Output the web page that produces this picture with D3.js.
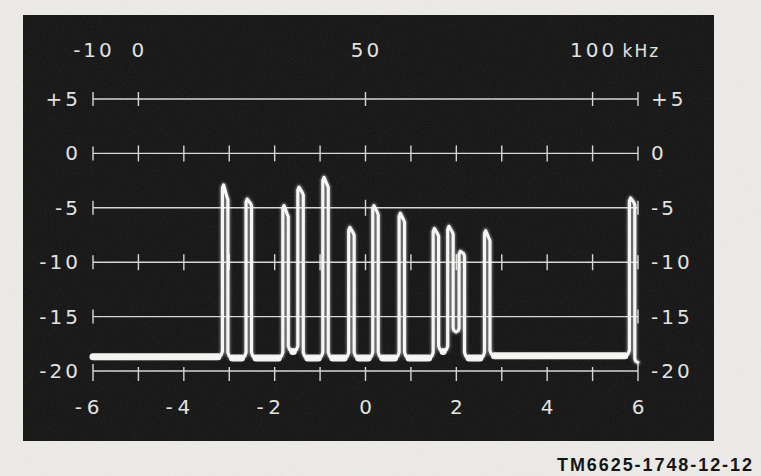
<!DOCTYPE html>
<html>
<head>
<meta charset="utf-8">
<script src="https://cdn.jsdelivr.net/npm/d3@7"></script>
<style>
  html, body { margin: 0; padding: 0; background: #ececea; }
  svg { display: block; }
</style>
</head>
<body>
<svg id="chart" width="761" height="476"></svg>
<script>
// ---- data ----
const xTicks = [-6, -4, -2, 0, 2, 4, 6];                 // bottom scale labels
const yTicks = [5, 0, -5, -10, -15, -20];                 // level lines (dB)
const yTickLabels = ["+5", "0", "-5", "-10", "-15", "-20"];
const topTicks = [-10, 0, 50, 100];                       // kHz labels on top
const topTickLabels = ["-10", "0", "50", "100"];
const topUnit = "kHz";

// channel pulses: position on bottom scale, peak level (left), shoulder level (right)
const channelPos      = [-3.09, -2.57, -1.76, -1.43, -0.88, -0.31, 0.22, 0.80, 1.55, 1.87, 2.12, 2.68, 5.87];
const channelLevel    = [-2.9, -4.2, -4.8, -3.1, -2.2, -6.8, -4.8, -5.5, -6.9, -6.7, -9.0, -7.1, -4.1];
const channelShoulder = [-4.0, -4.6, -5.6, -3.6, -2.9, -7.3, -5.4, -6.1, -7.4, -7.2, -9.2, -7.8, -4.5];
// valley bottoms between consecutive pulses
const valleyLevel     = [-18.8, -18.8, -18.2, -18.8, -18.8, -18.8, -18.8, -18.8, -18.2, -16.4, -18.8, -18.6];
const floorLevel = -18.7;
const endLevel = -19.2;
const pulseWidth = 0.12;
const caption = "TM6625-1748-12-12";

// ---- layout ----
const svg = d3.select("#chart");
const W = 761, H = 476;
const x = d3.scaleLinear().domain([-6, 6]).range([93, 638]);
const xk = d3.scaleLinear().domain([-10, 110]).range([93, 638]);
const y = d3.scaleLinear().domain([-20, 5]).range([371, 99]);

const defs = svg.append("defs");
const nf = defs.append("filter").attr("id", "noise").attr("x", 0).attr("y", 0).attr("width", "100%").attr("height", "100%");
nf.append("feTurbulence").attr("type", "fractalNoise").attr("baseFrequency", 0.85).attr("numOctaves", 2).attr("seed", 3);
nf.append("feColorMatrix").attr("type", "saturate").attr("values", 0);
const glow = defs.append("filter").attr("id", "glow").attr("x", "-20%").attr("y", "-20%").attr("width", "140%").attr("height", "140%");
glow.append("feGaussianBlur").attr("stdDeviation", 1.2);

// page
svg.append("rect").attr("width", W).attr("height", H).attr("fill", "#ecebe8");
svg.append("rect").attr("width", W).attr("height", H).attr("filter", "url(#noise)").attr("opacity", 0.08);

// panel
svg.append("rect").attr("x", 23).attr("y", 15).attr("width", 691).attr("height", 426).attr("fill", "#121212");
svg.append("rect").attr("x", 23).attr("y", 15).attr("width", 691).attr("height", 426)
  .attr("filter", "url(#noise)").attr("opacity", 0.1);

const ink = "#e2e2e0";
const font = "'DejaVu Sans', 'Open Sans', sans-serif";

// level lines
const grid = svg.append("g").attr("stroke", "#d6d6d4").attr("stroke-width", 1.4).attr("fill", "none");
yTicks.forEach(v => {
  grid.append("line").attr("x1", x(-6)).attr("x2", x(6)).attr("y1", y(v)).attr("y2", y(v));
  [-6, 6].forEach(e => grid.append("line").attr("x1", x(e)).attr("x2", x(e))
    .attr("y1", y(v) - 7).attr("y2", y(v) + (v === -20 ? 10 : 7)));
});
const unitTicks = d3.range(-5, 6);
function tickRow(level, positions, up, down) {
  positions.forEach(p => grid.append("line").attr("x1", x(p)).attr("x2", x(p))
    .attr("y1", y(level) - up).attr("y2", y(level) + down));
}
tickRow(5, [-5, 0, 5], 7, 7);
tickRow(0, unitTicks, 8, 8);
tickRow(-5, [0], 8, 8);
tickRow(-10, unitTicks, 8, 8);
tickRow(-20, unitTicks, 4, 10);

// trace
const pts = [];
const floorSegs = [];
const n = channelPos.length;
const hw = (x(pulseWidth) - x(0)) / 2;
pts.push([x(-6), y(floorLevel)]);
for (let i = 0; i < n; i++) {
  const xc = x(channelPos[i]);
  const xl = xc - hw, xr = xc + hw;
  const ybL = y(i === 0 ? floorLevel : valleyLevel[i - 1]);
  const ybR = y(i === n - 1 ? endLevel : valleyLevel[i]);
  const prevXr = i === 0 ? -1e9 : x(channelPos[i - 1]) + hw;
  const nextXl = i === n - 1 ? xr + 6 : x(channelPos[i + 1]) - hw;
  const rL = Math.min(4.5, (xl - prevXr) / 2);
  const rR = Math.min(4.5, (nextXl - xr) / 2);
  const yt = y(channelLevel[i]), ys = y(channelShoulder[i]);
  pts.push([xl - rL, ybL], [xl - rL * 0.3, ybL - rL * 0.4], [xl, ybL - rL * 1.2],
           [xl, yt + 3], [xl + 1.2, yt], [xr - 1, ys], [xr, ys + 2.5],
           [xr, ybR - rR * 1.2], [xr + rR * 0.3, ybR - rR * 0.4], [xr + rR, ybR]);
  if (i < n - 1) floorSegs.push([[xr + rR, ybR], [nextXl - rR, ybR]]);
}
floorSegs.unshift([[x(-6), y(floorLevel)], [x(channelPos[0]) - hw - 4.5, y(floorLevel)]]);

const line = d3.line();
const tr = svg.append("g").attr("fill", "none").attr("stroke-linejoin", "round").attr("stroke-linecap", "round");
tr.append("path").attr("d", line(pts)).attr("stroke", "#ffffff").attr("stroke-width", 5.5)
  .attr("opacity", 0.35).attr("filter", "url(#glow)");
floorSegs.forEach(s => {
  if (s[1][0] > s[0][0]) tr.append("path").attr("d", line(s)).attr("stroke", "#f2f2f0").attr("stroke-width", 7);
});
tr.append("path").attr("d", line(pts)).attr("stroke", "#f6f6f4").attr("stroke-width", 3.2);

// left / right labels
const lab = svg.append("g").attr("fill", ink).attr("font-family", font).attr("font-size", 20);
yTicks.forEach((v, i) => {
  lab.append("text").attr("x", 81).attr("y", y(v) + 7).attr("text-anchor", "end")
    .attr("letter-spacing", 3).text(yTickLabels[i]);
  lab.append("text").attr("x", 651).attr("y", y(v) + 7).attr("text-anchor", "start")
    .attr("letter-spacing", 3).text(yTickLabels[i]);
});
// bottom labels: digits centred on the tick, minus sign hanging left
xTicks.forEach(v => {
  const s = String(Math.abs(v));
  lab.append("text").attr("x", x(v)).attr("y", 414).attr("text-anchor", "middle").text(s);
  if (v < 0) lab.append("text").attr("x", x(v) - 11).attr("y", 414).attr("text-anchor", "end").text("-");
});
// top kHz labels
topTicks.forEach((v, i) => {
  lab.append("text").attr("x", xk(v) + 1).attr("y", 57).attr("text-anchor", "middle")
    .attr("letter-spacing", 3).text(topTickLabels[i]);
});
lab.append("text").attr("x", xk(100) + 30).attr("y", 57).attr("font-size", 17)
  .attr("letter-spacing", 2).text(topUnit);

// caption
svg.append("text").attr("x", 557).attr("y", 471).attr("textLength", 195).attr("lengthAdjust", "spacing")
  .attr("font-family", "'Liberation Sans', Arial, sans-serif").attr("font-weight", "bold")
  .attr("font-size", 18).attr("fill", "#151515").text(caption);
</script>
</body>
</html>
